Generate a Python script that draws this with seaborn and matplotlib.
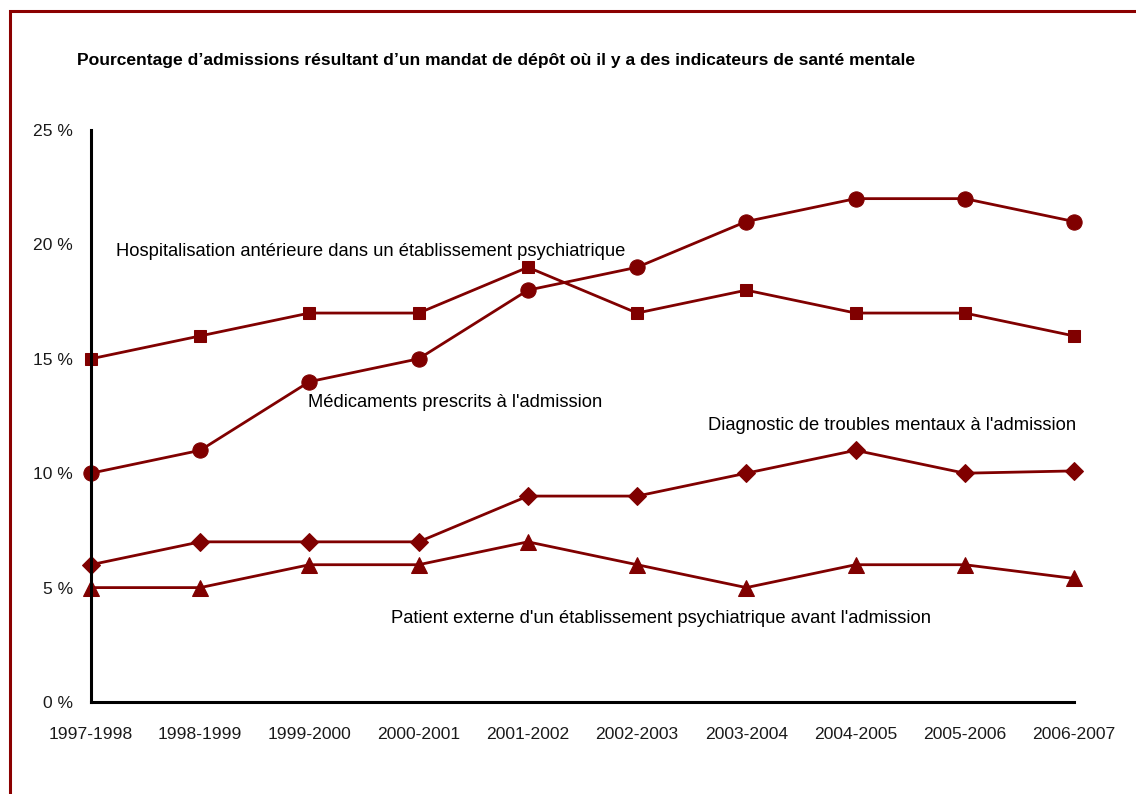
import matplotlib
matplotlib.use("Agg")
import matplotlib.pyplot as plt
import matplotlib.patches as mpatches
import seaborn as sns
import pandas as pd

years = ["1997-1998", "1998-1999", "1999-2000", "2000-2001", "2001-2002",
         "2002-2003", "2003-2004", "2004-2005", "2005-2006", "2006-2007"]
hospitalisation = [15, 16, 17, 17, 19, 17, 18, 17, 17, 16]
medicaments = [10, 11, 14, 15, 18, 19, 21, 22, 22, 21]
diagnostic = [6, 7, 7, 7, 9, 9, 10, 11, 10, 10.1]
patient_externe = [5, 5, 6, 6, 7, 6, 5, 6, 6, 5.4]
y_ticks = [0, 5, 10, 15, 20, 25]
y_tick_labels = ["0 %", "5 %", "10 %", "15 %", "20 %", "25 %"]

series = {
    "Hospitalisation": hospitalisation,
    "Médicaments": medicaments,
    "Diagnostic": diagnostic,
    "Patient": patient_externe,
}
markers = {"Hospitalisation": "s", "Médicaments": "o", "Diagnostic": "D", "Patient": "^"}
msizes = {"Hospitalisation": 9.0, "Médicaments": 11.0, "Diagnostic": 9, "Patient": 11.5}

rows = []
for name, vals in series.items():
    for i, v in enumerate(vals):
        rows.append({"x": i, "y": v, "serie": name})
df = pd.DataFrame(rows)

sns.set_theme(style="white")
plt.rcParams["font.family"] = ["Liberation Sans", "DejaVu Sans"]

color = "#800000"
fig = plt.figure(figsize=(11.36, 7.94), dpi=100)
ax = fig.add_axes([91/1136, 1 - 702/794, (1074 - 91)/1136, (702 - 130)/794])

for name in series:
    sub = df[df["serie"] == name]
    sns.lineplot(data=sub, x="x", y="y", ax=ax, color=color, linewidth=2.0,
                 marker=markers[name], markersize=msizes[name],
                 markeredgecolor=color, markerfacecolor=color, clip_on=False,
                 legend=False)

ax.set_xlim(0, len(years) - 1)
ax.set_ylim(0, 25)
ax.set_xticks(range(len(years)))
ax.set_xticklabels(years, fontsize=12.6, color="#1a1a1a")
ax.set_yticks(y_ticks)
ax.set_yticklabels(y_tick_labels, fontsize=12.6, color="#1a1a1a")
ax.set_xlabel("")
ax.set_ylabel("")
for s in ["top", "right"]:
    ax.spines[s].set_visible(False)
for s in ["left", "bottom"]:
    ax.spines[s].set_color("black")
    ax.spines[s].set_linewidth(2.2)
ax.tick_params(axis="both", direction="out", length=8, width=2.2, color="black")
ax.tick_params(axis="x", pad=10)
ax.tick_params(axis="y", pad=5)
ax.grid(False)

txt = dict(fontsize=13.2, color="black")
ax.text(0.23, 19.7, "Hospitalisation antérieure dans un établissement psychiatrique",
        ha="left", va="center", **txt)
ax.text(1.99, 13.07, "Médicaments prescrits à l'admission", ha="left", va="center", **txt)
ax.text(9.02, 12.1, "Diagnostic de troubles mentaux à l'admission", ha="right", va="center", **txt)
ax.text(5.22, 3.63, "Patient externe d'un établissement psychiatrique avant l'admission",
        ha="center", va="center", **txt)

fig.text(77/1136, 1 - 61/794,
         "Pourcentage d’admissions résultant d’un mandat de dépôt où il y a des indicateurs de santé mentale",
         ha="left", va="center", fontsize=12.6, fontweight="bold", color="black")

frame = mpatches.Rectangle((9.5/1136, -0.1), 1.2, 1 - 11/794 + 0.1,
                           transform=fig.transFigure, fill=False,
                           edgecolor="#8b0000", linewidth=2.2)
fig.patches.append(frame)

fig.savefig("out.png", dpi=100)
